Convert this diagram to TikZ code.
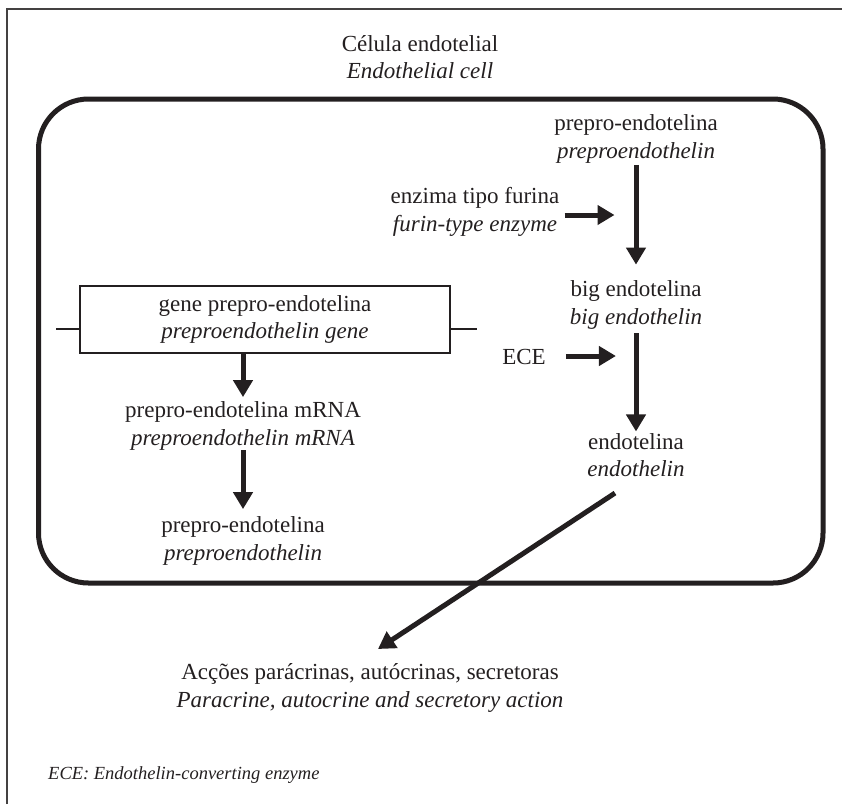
\documentclass[tikz,border=0pt]{standalone}
\usepackage{fontspec}
\setmainfont{Liberation Serif}
\usetikzlibrary{arrows.meta}
\definecolor{ink}{RGB}{35,31,32}
\begin{document}
\begin{tikzpicture}[x=1pt,y=-1pt,
  lbl/.style={align=center,inner sep=0pt,text=ink,font=\fontsize{23}{27.5}\selectfont},
  genebox/.style={draw=ink,line width=2pt,minimum width=370pt,minimum height=67pt,align=center,inner sep=0pt,text=ink,font=\fontsize{23}{27.5}\selectfont},
  arr/.style={draw=ink,line width=5pt,-{Triangle[length=17pt,width=19pt]}},
  stub/.style={draw=ink,line width=2pt},
  cell/.style={draw=ink,line width=5pt,rounded corners=50pt},
  frame/.style={draw=ink!85,line width=1.5pt},
  note/.style={anchor=west,inner sep=0pt,text=ink,font=\fontsize{18.5}{21}\selectfont\itshape}]
\useasboundingbox (0,0) rectangle (842,804);
% outer frame (top and left only)
\draw[frame] (7,804) -- (7,9) -- (842,9);
% cell outline
\draw[cell] (38.5,99) rectangle (823,583);
% title
\node[lbl] (title) at (420,57) {Célula endotelial\\\textit{Endothelial cell}};
% right column
\node[lbl] (ppeR) at (636,139) {prepro-endotelina\\\textit{preproendothelin}};
\node[lbl] (furin) at (475,212) {enzima tipo furina\\\textit{furin-type enzyme}};
\node[lbl] (big) at (636,305) {big endotelina\\\textit{big endothelin}};
\node[lbl] (ece) at (524,357) {ECE};
\node[lbl] (endo) at (636,455) {endotelina\\\textit{endothelin}};
% left column
\node[genebox] (gene) at (265,319.5) {gene prepro-endotelina\\\textit{preproendothelin gene}};
\node[lbl] (mrna) at (243,426) {prepro-endotelina mRNA\\\textit{preproendothelin mRNA}};
\node[lbl] (ppeL) at (243,541) {prepro-endotelina\\\textit{preproendothelin}};
% actions
\node[lbl] (act) at (370,688) {Acções parácrinas, autócrinas, secretoras\\\textit{Paracrine, autocrine and secretory action}};
% footnote
\node[note] (fn) at (48,775) {ECE: Endothelin-converting enzyme};
% gene stubs
\draw[stub] ([yshift=-9pt]gene.west) -- ++(-23,0);
\draw[stub] ([yshift=-9pt]gene.east) -- ++(26,0);
% arrows right column
\draw[arr,shorten <=1.5pt,shorten >=16pt] (ppeR.south) -- (big.north);
\draw[arr,shorten <=4pt,shorten >=1.5pt] (big.south) -- (endo.north);
\draw[arr] ([xshift=5pt,yshift=-3pt]furin.east) -- ++(50,0);
\draw[arr] ([xshift=20pt,yshift=1pt]ece.east) -- ++(50,0);
% arrows left column
\draw[arr,shorten >=4.5pt] (gene.south -| mrna.north) -- (mrna.north);
\draw[arr,shorten >=7.5pt] (mrna.south) -- (ppeL.north);
% diagonal
\coordinate (dstart) at ([xshift=-21pt,yshift=-16pt]endo.south);
\coordinate (dend) at (378,649);
\draw[arr] (dstart) -- (dend);
\end{tikzpicture}
\end{document}
